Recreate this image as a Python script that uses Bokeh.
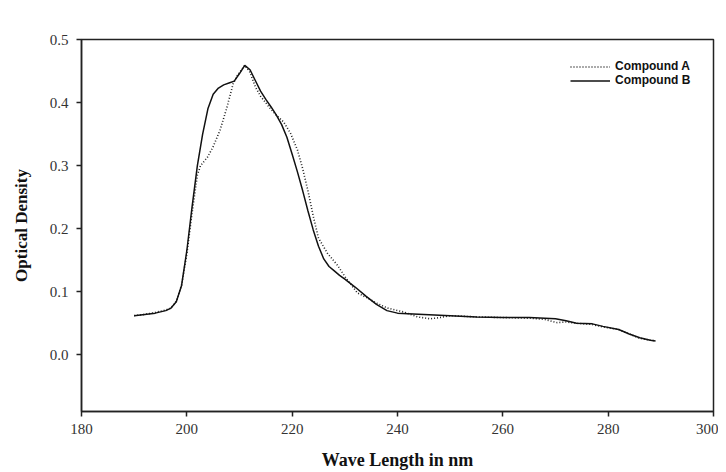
from bokeh.plotting import figure
from bokeh.models import FixedTicker, NumeralTickFormatter, Legend, LegendItem, Range1d
from bokeh.embed import file_html
from bokeh.resources import INLINE

# Compound A (dotted)
wl_a = [190, 192, 194, 196, 197, 198, 199, 200, 201, 202, 202.6, 203.9, 205.0, 206.3, 207.6,
        208.8, 209.6, 211, 212, 213, 214, 215.9, 217, 218.4, 219.7, 221, 222, 223, 224, 225,
        226.7, 228.6, 230.1, 232.4, 234.3, 236, 238.1, 241.1, 243.8, 246.2, 248.1, 250, 255,
        260, 265, 268, 270.3, 272, 274, 277, 279, 282, 284, 286, 288, 289]
od_a = [0.062, 0.064, 0.067, 0.071, 0.074, 0.085, 0.11, 0.16, 0.225, 0.285, 0.300, 0.313, 0.330,
        0.356, 0.392, 0.430, 0.443, 0.459, 0.448, 0.425, 0.410, 0.390, 0.380, 0.369, 0.351,
        0.325, 0.295, 0.260, 0.220, 0.185, 0.161, 0.142, 0.123, 0.098, 0.090, 0.082, 0.074,
        0.068, 0.060, 0.057, 0.059, 0.062, 0.060, 0.059, 0.058, 0.056, 0.051, 0.052, 0.050,
        0.048, 0.044, 0.040, 0.033, 0.026, 0.023, 0.022]

# Compound B (solid)
wl_b = [190, 192, 194, 196, 197, 198, 199, 200, 201, 202, 203, 204, 205, 206, 207, 208, 209,
        210, 211, 212, 213, 214, 215, 216, 217, 218, 219, 220, 221, 222, 223, 224, 225, 226,
        227, 228, 229, 230, 232, 234, 236, 238, 240, 245, 250, 255, 260, 265, 270, 272, 274,
        277, 279, 282, 284, 286, 288, 289]
od_b = [0.062, 0.064, 0.066, 0.070, 0.074, 0.084, 0.110, 0.165, 0.235, 0.300, 0.350, 0.390,
        0.413, 0.423, 0.428, 0.431, 0.434, 0.446, 0.459, 0.452, 0.435, 0.418, 0.405, 0.393,
        0.380, 0.365, 0.345, 0.318, 0.290, 0.260, 0.228, 0.198, 0.172, 0.152, 0.140, 0.133,
        0.126, 0.120, 0.107, 0.093, 0.080, 0.070, 0.066, 0.064, 0.062, 0.060, 0.059, 0.059,
        0.057, 0.054, 0.050, 0.049, 0.045, 0.040, 0.033, 0.027, 0.023, 0.022]

x_ticks = [180, 200, 220, 240, 260, 280, 300]
y_ticks = [0.0, 0.1, 0.2, 0.3, 0.4, 0.5]
series_names = ["Compound A", "Compound B"]

p = figure(width=718, height=472, output_backend="svg", toolbar_location=None,
           x_range=Range1d(180, 300), y_range=Range1d(-0.09, 0.5),
           min_border_left=81, min_border_right=5, min_border_top=39, min_border_bottom=60)
p.background_fill_color = "white"
p.border_fill_color = "white"
p.outline_line_color = "#222222"
p.outline_line_width = 1.5
p.xgrid.visible = False
p.ygrid.visible = False

ra = p.line(wl_a, od_a, line_color="#222222", line_width=1.6, line_dash="1 2")
rb = p.line(wl_b, od_b, line_color="#111111", line_width=1.5)

for ax in (p.xaxis[0], p.yaxis[0]):
    ax.axis_line_color = "#222222"
    ax.axis_line_width = 1.5
    ax.major_tick_line_color = "#222222"
    ax.major_tick_line_width = 1.5
    ax.major_tick_out = 5
    ax.major_tick_in = 0
    ax.minor_tick_line_color = None
    ax.major_label_text_font = "Liberation Serif"
    ax.major_label_text_font_size = "15px"
    ax.major_label_text_color = "#333333"
    ax.axis_label_text_font = "Liberation Serif"
    ax.axis_label_text_font_style = "bold"
    ax.axis_label_text_color = "#111111"

p.xaxis.axis_label_text_font_size = "18px"
p.yaxis.axis_label_text_font_size = "17px"
p.xaxis.ticker = FixedTicker(ticks=x_ticks)
p.yaxis.ticker = FixedTicker(ticks=y_ticks)
p.yaxis.formatter = NumeralTickFormatter(format="0.0")
p.xaxis.axis_label = "Wave Length in nm"
p.yaxis.axis_label = "Optical Density"
p.xaxis.major_label_standoff = 7
p.xaxis.axis_label_standoff = 13
p.yaxis.major_label_standoff = 8
p.yaxis.axis_label_standoff = 16

legend = Legend(items=[LegendItem(label=series_names[0], renderers=[ra]),
                       LegendItem(label=series_names[1], renderers=[rb])],
                location=(489, 324))
legend.label_text_font = "Liberation Sans"
legend.label_text_font_style = "bold"
legend.label_text_font_size = "12px"
legend.label_text_color = "#111111"
legend.glyph_width = 40
legend.glyph_height = 11
legend.label_height = 11
legend.label_standoff = 5
legend.spacing = 0
legend.padding = 0
legend.margin = 0
legend.border_line_color = None
legend.background_fill_alpha = 0
p.add_layout(legend)

open("out.html", "w").write(file_html(p, INLINE))
